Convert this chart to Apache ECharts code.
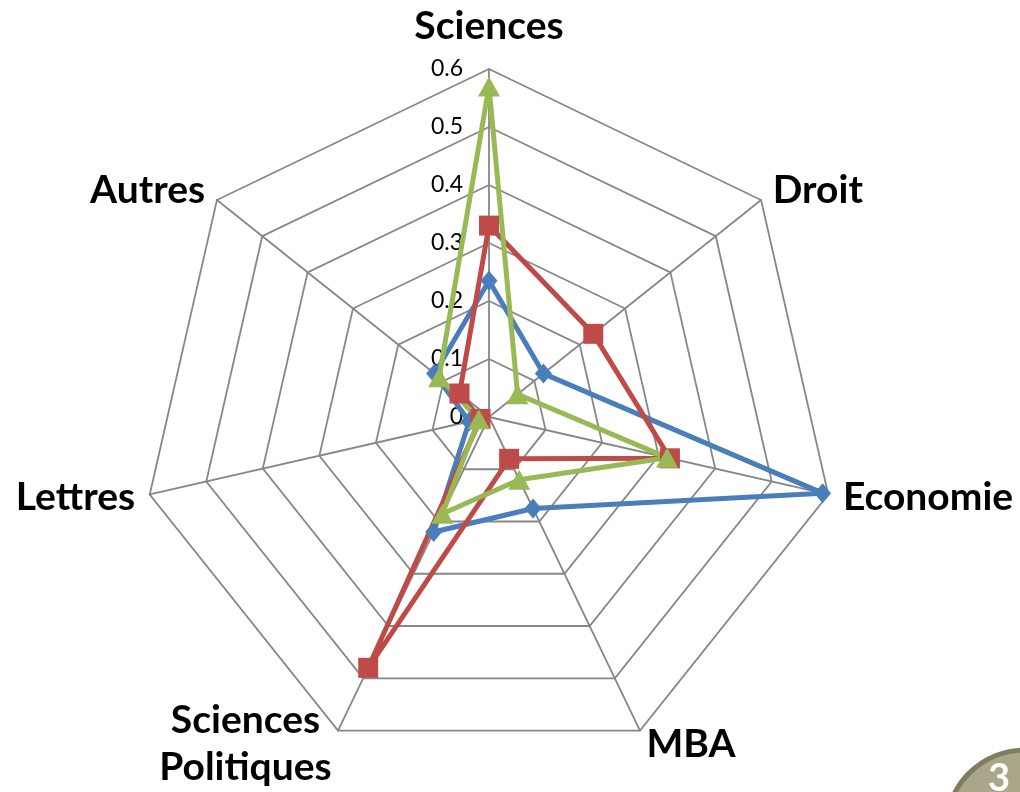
<!DOCTYPE html>
<html>
<head>
<meta charset="utf-8">
<script src="https://cdn.jsdelivr.net/npm/echarts@6/dist/echarts.min.js"></script>
<style>
html,body{margin:0;padding:0;background:#fff;}
#chart{width:1020px;height:792px;}
</style>
</head>
<body>
<div id="chart"></div>
<script>
// Categories in clockwise order starting at the top
const categories = ['Sciences', 'Droit', 'Economie', 'MBA', 'Sciences Politiques', 'Lettres', 'Autres'];
const tickValues = [0, 0.1, 0.2, 0.3, 0.4, 0.5, 0.6];
const seriesBlue  = [0.235, 0.12, 0.59, 0.175, 0.22, 0.035, 0.12];
const seriesRed   = [0.33, 0.23, 0.32, 0.08, 0.48, 0.015, 0.065];
const seriesGreen = [0.57, 0.063, 0.315, 0.12, 0.185, 0.018, 0.11];

// ECharts lays indicators counter-clockwise; reorder to get clockwise order
const order = [0].concat(categories.slice(1).map((_, i) => categories.length - 1 - i));
const reorder = arr => order.map(i => arr[i]);

const maxV = tickValues[tickValues.length - 1];
const indicators = order.map((i, k) => {
  const ind = {
    name: categories[i],
    min: tickValues[0],
    max: maxV,
    axisLabel: { show: k === 0 }
  };
  if (k === 0) ind.nameGap = 23;
  return ind;
});

const nameFont = { fontFamily: 'Lato', fontWeight: 'bold', fontSize: 39, color: '#000' };

const chart = echarts.init(document.getElementById('chart'), null, { renderer: 'canvas' });
chart.setOption({
  animation: false,
  backgroundColor: '#fff',
  radar: {
    center: [489, 417],
    radius: 348,
    startAngle: 90,
    shape: 'polygon',
    splitNumber: tickValues.length - 1,
    indicator: indicators,
    axisNameGap: 15,
    axisName: Object.assign({}, nameFont, {
      formatter: function (name) {
        if (name.indexOf(' ') >= 0) {
          return name.split(' ').map(w => '{c|' + w + '}').join('\n');
        }
        return name;
      },
      rich: {
        c: Object.assign({}, nameFont, { width: 172, align: 'center', lineHeight: 47 })
      }
    }),
    axisLine: { lineStyle: { color: '#878787', width: 1.8 } },
    splitLine: { lineStyle: { color: '#878787', width: 1.8 } },
    splitArea: { show: false },
    axisTick: { show: false },
    axisLabel: {
      show: false,
      showMinLabel: true,
      color: '#000',
      fontFamily: 'Lato',
      fontSize: 23,
      margin: 26,
      formatter: function (v) { return String(Math.round(v * 10) / 10); }
    }
  },
  series: [{
    type: 'radar',
    data: [
      {
        name: 'S1', value: reorder(seriesBlue),
        symbol: 'diamond', symbolSize: [17, 20],
        itemStyle: { color: '#4A7EBB' },
        lineStyle: { color: '#4A7EBB', width: 5 }
      },
      {
        name: 'S2', value: reorder(seriesRed),
        symbol: 'rect', symbolSize: 20,
        itemStyle: { color: '#BE4B48' },
        lineStyle: { color: '#BE4B48', width: 5 }
      },
      {
        name: 'S3', value: reorder(seriesGreen),
        symbol: 'triangle', symbolSize: [22, 20],
        itemStyle: { color: '#98B954' },
        lineStyle: { color: '#98B954', width: 5 }
      }
    ]
  }],
  graphic: [
    {
      type: 'circle',
      shape: { cx: 1025, cy: 829, r: 79 },
      style: { fill: '#A9A68A', stroke: '#7F7D5F', lineWidth: 5 },
      silent: true
    },
    {
      type: 'text',
      x: 999, y: 779,
      style: { text: '3', fill: '#fff', font: 'bold 38px Lato', textAlign: 'center', textVerticalAlign: 'middle' },
      silent: true
    }
  ]
});
</script>
</body>
</html>
